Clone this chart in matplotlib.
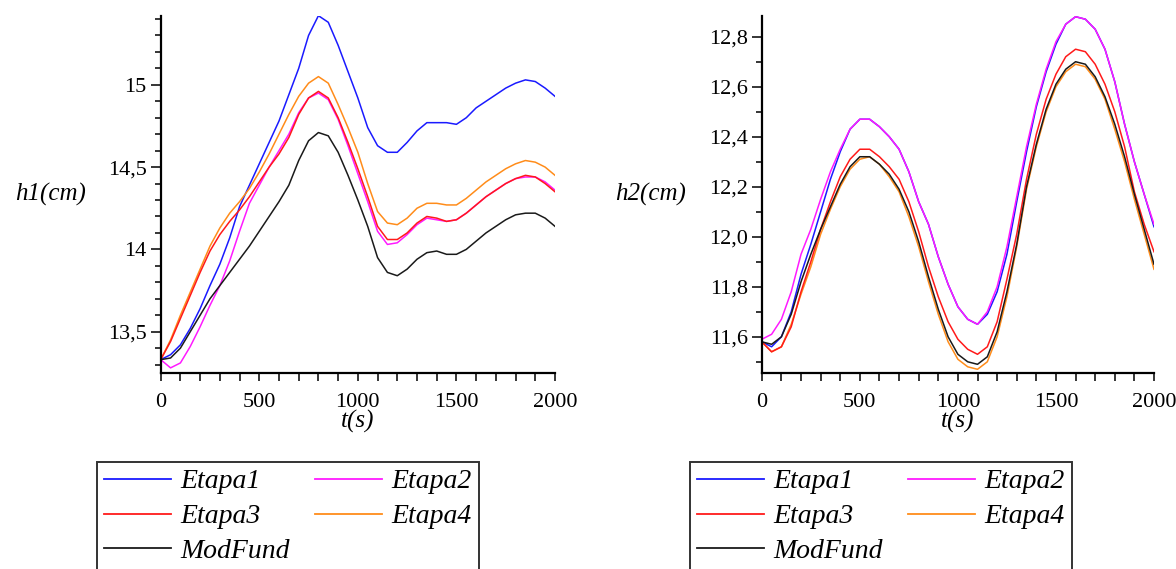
import numpy as np
import matplotlib.pyplot as plt
from matplotlib.ticker import MultipleLocator, FuncFormatter

# time axis (s)
t = np.arange(0, 2001, 50)

# h1 (cm) - left panel
h1_etapa1 = [13.33, 13.36, 13.42, 13.52, 13.64, 13.78, 13.91, 14.07, 14.26, 14.39, 14.52,
             14.65, 14.78, 14.94, 15.10, 15.30, 15.42, 15.38, 15.24, 15.08, 14.92, 14.74,
             14.63, 14.59, 14.59, 14.65, 14.72, 14.77, 14.77, 14.77, 14.76, 14.80, 14.86,
             14.90, 14.94, 14.98, 15.01, 15.03, 15.02, 14.98, 14.93]
h1_etapa2 = [13.33, 13.28, 13.31, 13.41, 13.53, 13.66, 13.78, 13.93, 14.11, 14.28, 14.39,
             14.50, 14.60, 14.70, 14.83, 14.92, 14.95, 14.91, 14.79, 14.63, 14.46, 14.29,
             14.11, 14.03, 14.04, 14.09, 14.15, 14.19, 14.18, 14.17, 14.18, 14.22, 14.27,
             14.32, 14.36, 14.40, 14.43, 14.44, 14.44, 14.41, 14.36]
h1_etapa3 = [13.33, 13.44, 13.58, 13.72, 13.86, 13.99, 14.09, 14.17, 14.24, 14.32, 14.41,
             14.50, 14.58, 14.68, 14.82, 14.92, 14.96, 14.92, 14.80, 14.65, 14.49, 14.32,
             14.14, 14.06, 14.06, 14.10, 14.16, 14.20, 14.19, 14.17, 14.18, 14.22, 14.27,
             14.32, 14.36, 14.40, 14.43, 14.45, 14.44, 14.40, 14.35]
h1_etapa4 = [13.33, 13.45, 13.60, 13.74, 13.88, 14.02, 14.13, 14.22, 14.29, 14.37, 14.47,
             14.58, 14.70, 14.82, 14.93, 15.01, 15.05, 15.01, 14.88, 14.74, 14.59, 14.40,
             14.23, 14.16, 14.15, 14.19, 14.25, 14.28, 14.28, 14.27, 14.27, 14.31, 14.36,
             14.41, 14.45, 14.49, 14.52, 14.54, 14.53, 14.50, 14.45]
h1_modfund = [13.33, 13.34, 13.40, 13.50, 13.60, 13.70, 13.78, 13.86, 13.94, 14.02, 14.11,
              14.20, 14.29, 14.39, 14.54, 14.66, 14.71, 14.69, 14.59, 14.45, 14.30, 14.14,
              13.95, 13.86, 13.84, 13.88, 13.94, 13.98, 13.99, 13.97, 13.97, 14.00, 14.05,
              14.10, 14.14, 14.18, 14.21, 14.22, 14.22, 14.19, 14.14]

# h2 (cm) - right panel
h2_etapa1 = [11.58, 11.56, 11.60, 11.70, 11.85, 11.97, 12.10, 12.23, 12.34, 12.43, 12.47,
             12.47, 12.44, 12.40, 12.35, 12.26, 12.14, 12.05, 11.92, 11.81, 11.72, 11.67,
             11.65, 11.69, 11.78, 11.93, 12.14, 12.34, 12.52, 12.66, 12.77, 12.85, 12.88,
             12.87, 12.83, 12.75, 12.62, 12.45, 12.30, 12.17, 12.04]
h2_etapa2 = [11.59, 11.61, 11.67, 11.78, 11.93, 12.03, 12.15, 12.26, 12.35, 12.43, 12.47,
             12.47, 12.44, 12.40, 12.35, 12.26, 12.14, 12.05, 11.92, 11.81, 11.72, 11.67,
             11.65, 11.70, 11.80, 11.96, 12.16, 12.36, 12.53, 12.67, 12.78, 12.85, 12.88,
             12.87, 12.83, 12.75, 12.62, 12.45, 12.30, 12.17, 12.05]
h2_etapa3 = [11.58, 11.54, 11.56, 11.64, 11.78, 11.90, 12.03, 12.14, 12.24, 12.31, 12.35,
             12.35, 12.32, 12.28, 12.23, 12.14, 12.02, 11.88, 11.76, 11.66, 11.59, 11.55,
             11.53, 11.56, 11.66, 11.83, 12.01, 12.23, 12.41, 12.55, 12.65, 12.72, 12.75,
             12.74, 12.69, 12.61, 12.50, 12.36, 12.18, 12.05, 11.94]
h2_etapa4 = [11.58, 11.54, 11.56, 11.65, 11.77, 11.88, 12.01, 12.11, 12.20, 12.27, 12.31,
             12.32, 12.29, 12.24, 12.18, 12.08, 11.96, 11.82, 11.69, 11.58, 11.51, 11.48,
             11.47, 11.50, 11.60, 11.76, 11.96, 12.19, 12.36, 12.50, 12.60, 12.66, 12.69,
             12.68, 12.63, 12.55, 12.43, 12.30, 12.15, 12.01, 11.87]
h2_modfund = [11.58, 11.57, 11.60, 11.69, 11.82, 11.93, 12.03, 12.12, 12.21, 12.28, 12.32,
              12.32, 12.29, 12.25, 12.19, 12.10, 11.98, 11.84, 11.71, 11.60, 11.53, 11.50,
              11.49, 11.52, 11.62, 11.78, 11.97, 12.20, 12.37, 12.51, 12.61, 12.67, 12.70,
              12.69, 12.64, 12.56, 12.45, 12.32, 12.17, 12.03, 11.89]

labels = ['Etapa1', 'Etapa2', 'Etapa3', 'Etapa4', 'ModFund']
colors = ['#1a1aff', '#ff1aff', '#ff1a1a', '#ff8c1a', '#1a1a1a']

plt.rcParams['font.family'] = ['Liberation Serif', 'DejaVu Serif']

fig = plt.figure(figsize=(11.76, 5.69), dpi=100)
W, H = 1176, 569

ax1 = fig.add_axes([160.7 / W, 1 - 373.3 / H, 394.3 / W, 357.6 / H])
ax2 = fig.add_axes([761.8 / W, 1 - 373.3 / H, 392.2 / W, 357.6 / H])

left_data = [h1_etapa1, h1_etapa2, h1_etapa3, h1_etapa4, h1_modfund]
right_data = [h2_etapa1, h2_etapa2, h2_etapa3, h2_etapa4, h2_modfund]
draw_order = [0, 1, 3, 2, 4]


def comma(fmt):
    return FuncFormatter(lambda v, p: fmt(v).replace('.', ','))


for ax, data, legx in [(ax1, left_data, 97), (ax2, right_data, 690)]:
    lines = {}
    for i in draw_order:
        lines[i], = ax.plot(t, data[i], color=colors[i], lw=1.1, label=labels[i])
    ax.set_xlim(0, 2000)
    for s in ['top', 'right']:
        ax.spines[s].set_visible(False)
    for s in ['left', 'bottom']:
        ax.spines[s].set_linewidth(1.6)
    ax.xaxis.set_major_locator(MultipleLocator(500))
    ax.xaxis.set_minor_locator(MultipleLocator(100))
    ax.tick_params(which='major', length=7, width=1.1, labelsize=16, pad=3)
    ax.tick_params(which='minor', length=4.5, width=1.1)
    ax.tick_params(axis='x', which='both', length=6)
    ax.tick_params(axis='x', which='major', pad=8)
    order = [0, 2, 4, 1, 3]
    leg = ax.legend([lines[i] for i in order], [labels[i] for i in order],
                    ncol=2, loc='upper left',
                    bbox_to_anchor=(legx / W, 1 - 462 / H),
                    bbox_transform=fig.transFigure,
                    prop={'style': 'italic', 'size': 20},
                    handlelength=2.4, handletextpad=0.36, columnspacing=0.9,
                    labelspacing=0.34, borderaxespad=0, borderpad=0.25,
                    frameon=True, fancybox=False, edgecolor='black')
    leg.get_frame().set_linewidth(1.4)
    for ln in leg.get_lines():
        ln.set_linewidth(1.3)

ax1.set_ylim(13.247, 15.42)
ax1.yaxis.set_major_locator(MultipleLocator(0.5))
ax1.yaxis.set_minor_locator(MultipleLocator(0.1))
ax1.yaxis.set_major_formatter(comma(lambda v: f'{v:g}'))

ax2.set_ylim(11.454, 12.884)
ax2.yaxis.set_major_locator(MultipleLocator(0.2))
ax2.yaxis.set_minor_locator(MultipleLocator(0.1))
ax2.yaxis.set_major_formatter(comma(lambda v: f'{v:.1f}'))

lab = dict(fontsize=18, style='italic', ha='center', va='center')
fig.text(51 / W, 1 - 194.5 / H, 'h1(cm)', **lab)
fig.text(651 / W, 1 - 194.5 / H, 'h2(cm)', **lab)
fig.text(357.9 / W, 1 - 421 / H, 't(s)', **lab)
fig.text(957.9 / W, 1 - 421 / H, 't(s)', **lab)

fig.savefig('out.png', dpi=100)
